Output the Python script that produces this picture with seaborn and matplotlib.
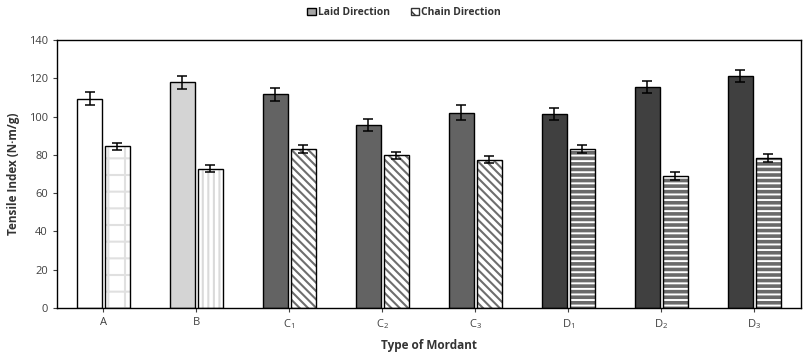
import numpy as np
import pandas as pd
import seaborn as sns
import matplotlib.pyplot as plt
from matplotlib.patches import Rectangle, Patch

mordants = ['A', 'B', 'C$_1$', 'C$_2$', 'C$_3$', 'D$_1$', 'D$_2$', 'D$_3$']
laid = [109.3, 117.9, 111.6, 95.7, 102.1, 101.4, 115.5, 121.2]
laid_err = [3.3, 3.3, 3.2, 3.3, 3.8, 3.2, 3.2, 3.2]
chain = [84.6, 72.8, 83.0, 79.9, 77.5, 83.1, 68.8, 78.4]
chain_err = [1.8, 2.0, 2.0, 1.8, 2.0, 2.0, 2.0, 2.0]

laid_colors = ['#ffffff', '#d4d4d4', '#636363', '#636363', '#636363', '#404040', '#404040', '#404040']
chain_hatch = ['+', '|||', '\\\\\\\\', '\\\\\\\\', '\\\\\\\\', '---', '---', '---']
chain_hcolor = ['#e0e0e0', '#dadada', '#6e6e6e', '#6e6e6e', '#6e6e6e', '#6a6a6a', '#6a6a6a', '#6a6a6a']
chain_hwidth = [1.5, 1.5, 1.5, 1.5, 1.5, 2.6, 2.6, 2.6]

df = pd.DataFrame({
    'Mordant': mordants * 2,
    'Direction': ['Laid Direction'] * 8 + ['Chain Direction'] * 8,
    'Tensile': laid + chain,
})

sns.set_style('white')
plt.rcParams['font.family'] = ['Open Sans', 'DejaVu Sans']
plt.rcParams['mathtext.default'] = 'regular'

fig, ax = plt.subplots(figsize=(8.08, 3.61), dpi=100)
fig.subplots_adjust(left=0.0705, right=0.991, bottom=0.147, top=0.889)

sns.barplot(data=df, x='Mordant', y='Tensile', hue='Direction', order=mordants,
            hue_order=['Laid Direction', 'Chain Direction'], errorbar=None,
            width=0.6, gap=0.1, ax=ax, legend=False)

bars = ax.patches[:16]
laid_bars = bars[:8]
chain_bars = bars[8:]

for i, p in enumerate(laid_bars):
    p.set_facecolor(laid_colors[i])
    p.set_edgecolor('black')
    p.set_linewidth(1.0)
    cx = p.get_x() + p.get_width() / 2
    ax.errorbar(cx, laid[i], yerr=laid_err[i], color='black', capsize=3.5,
                elinewidth=1.1, capthick=1.1, zorder=5)

for i, p in enumerate(chain_bars):
    p.set_facecolor('white')
    p.set_edgecolor(chain_hcolor[i])
    p.set_hatch(chain_hatch[i])
    p.set_linewidth(0)
    if hasattr(p, 'set_hatch_linewidth'):
        p.set_hatch_linewidth(chain_hwidth[i])
    ax.add_patch(Rectangle((p.get_x(), 0), p.get_width(), p.get_height(),
                           fill=False, edgecolor='black', linewidth=1.0, zorder=3))
    cx = p.get_x() + p.get_width() / 2
    ax.errorbar(cx, chain[i], yerr=chain_err[i], color='black', capsize=3.5,
                elinewidth=1.1, capthick=1.1, zorder=5)

ax.set_xlim(-0.5, 7.5)
ax.set_ylim(0, 140)
ax.set_yticks(range(0, 141, 20))
ax.tick_params(axis='both', labelsize=8, colors='#404040', length=3, width=0.8,
               direction='out', bottom=True, left=True)
for s in ax.spines.values():
    s.set_visible(True)
    s.set_color('black')
    s.set_linewidth(1.0)

ax.set_xlabel('Type of Mordant', fontsize=8.5, fontweight='bold', color='#333333', labelpad=6)
ax.set_ylabel('Tensile Index (N·m/g)', fontsize=8.5, fontweight='bold', color='#333333', labelpad=6)

handles = [Patch(facecolor='#a6a6a6', edgecolor='black', linewidth=1.0),
           Patch(facecolor='white', edgecolor='#333333', hatch='\\\\\\', linewidth=1.0)]
fig.legend(handles, ['Laid Direction', 'Chain Direction'], loc='center', bbox_to_anchor=(0.50, 0.965),
           ncol=2, frameon=False, prop={'size': 7.5, 'weight': 'bold'}, handlelength=0.8,
           handleheight=0.8, handletextpad=0.2, columnspacing=2.0, labelcolor='#333333')

fig.savefig('out.png', dpi=100)
